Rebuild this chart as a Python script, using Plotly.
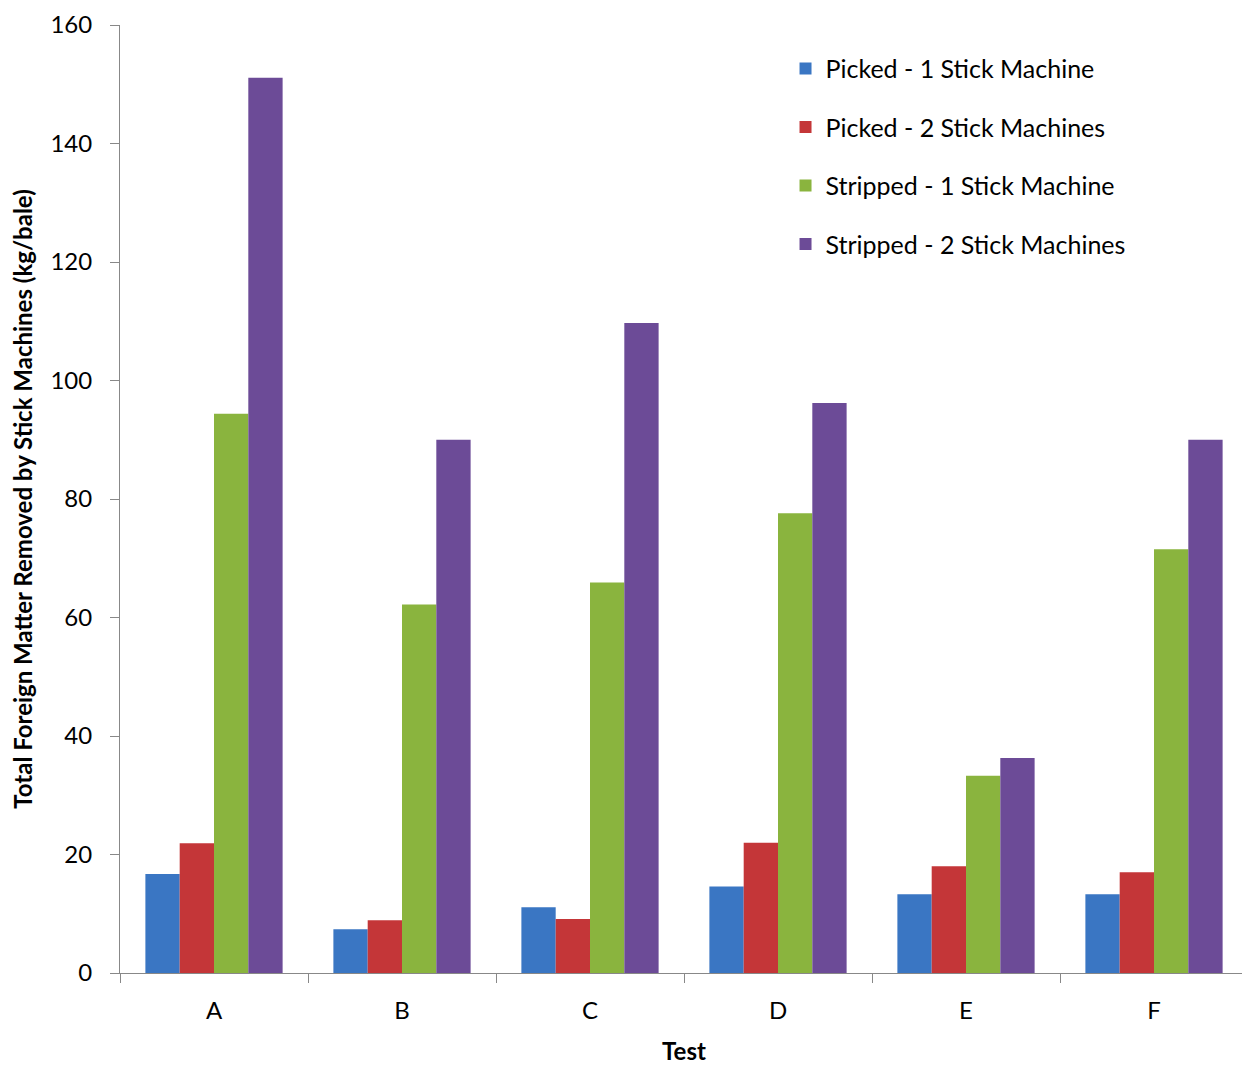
import plotly.graph_objects as go

tests = ["A", "B", "C", "D", "E", "F"]
picked_1 = [16.7, 7.4, 11.1, 14.6, 13.3, 13.3]
picked_2 = [21.9, 8.9, 9.1, 22.0, 18.0, 17.0]
stripped_1 = [94.4, 62.2, 65.9, 77.6, 33.3, 71.5]
stripped_2 = [151.1, 90.0, 109.7, 96.2, 36.3, 90.0]

series_names = ["Picked - 1 Stick Machine", "Picked - 2 Stick Machines",
                "Stripped - 1 Stick Machine", "Stripped - 2 Stick Machines"]
series_values = [picked_1, picked_2, stripped_1, stripped_2]
colors = ["#3A76C3", "#C43638", "#8AB43E", "#6C4B97"]

font_family = "Lato, 'Open Sans', sans-serif"

fig = go.Figure()
for i, (name, vals, col) in enumerate(zip(series_names, series_values, colors)):
    fig.add_trace(go.Bar(
        x=tests, y=vals, name=name, marker=dict(color=col, line=dict(width=0)),
        legendgroup=f"g{i}",
    ))

fig.update_layout(
    width=1242, height=1057,
    margin=dict(l=112, r=2, t=17, b=92, autoexpand=False),
    paper_bgcolor="white", plot_bgcolor="white",
    barmode="group", bargap=0.27, bargroupgap=0,
    font=dict(family=font_family, size=24, color="#000000"),
    showlegend=True,
    legend=dict(
        x=0.59, y=0.978, xanchor="left", yanchor="top",
        font=dict(size=25, color="#000000"),
        traceorder="grouped", tracegroupgap=23,
        bgcolor="rgba(0,0,0,0)", itemwidth=30,
    ),
    xaxis=dict(
        title=dict(text="<b>Test</b>", font=dict(size=24), standoff=24),
        showline=True, linecolor="#888888", linewidth=1,
        ticks="outside", tickson="boundaries", ticklen=9, tickcolor="#888888",
        tickfont=dict(size=24), showgrid=False, ticklabelstandoff=16,
        automargin=False, ticklabeloverflow="allow",
    ),
    yaxis=dict(
        title=dict(text="<b>Total Foreign Matter Removed by Stick Machines (kg/bale)</b>",
                   font=dict(size=24), standoff=13),
        range=[0, 160], dtick=20,
        showline=True, linecolor="#888888", linewidth=1,
        ticks="outside", ticklen=9, tickcolor="#888888",
        tickfont=dict(size=24), showgrid=False, zeroline=False,
        ticklabelstandoff=13, automargin=False, ticklabeloverflow="allow",
    ),
)

fig.write_html("out.html")
